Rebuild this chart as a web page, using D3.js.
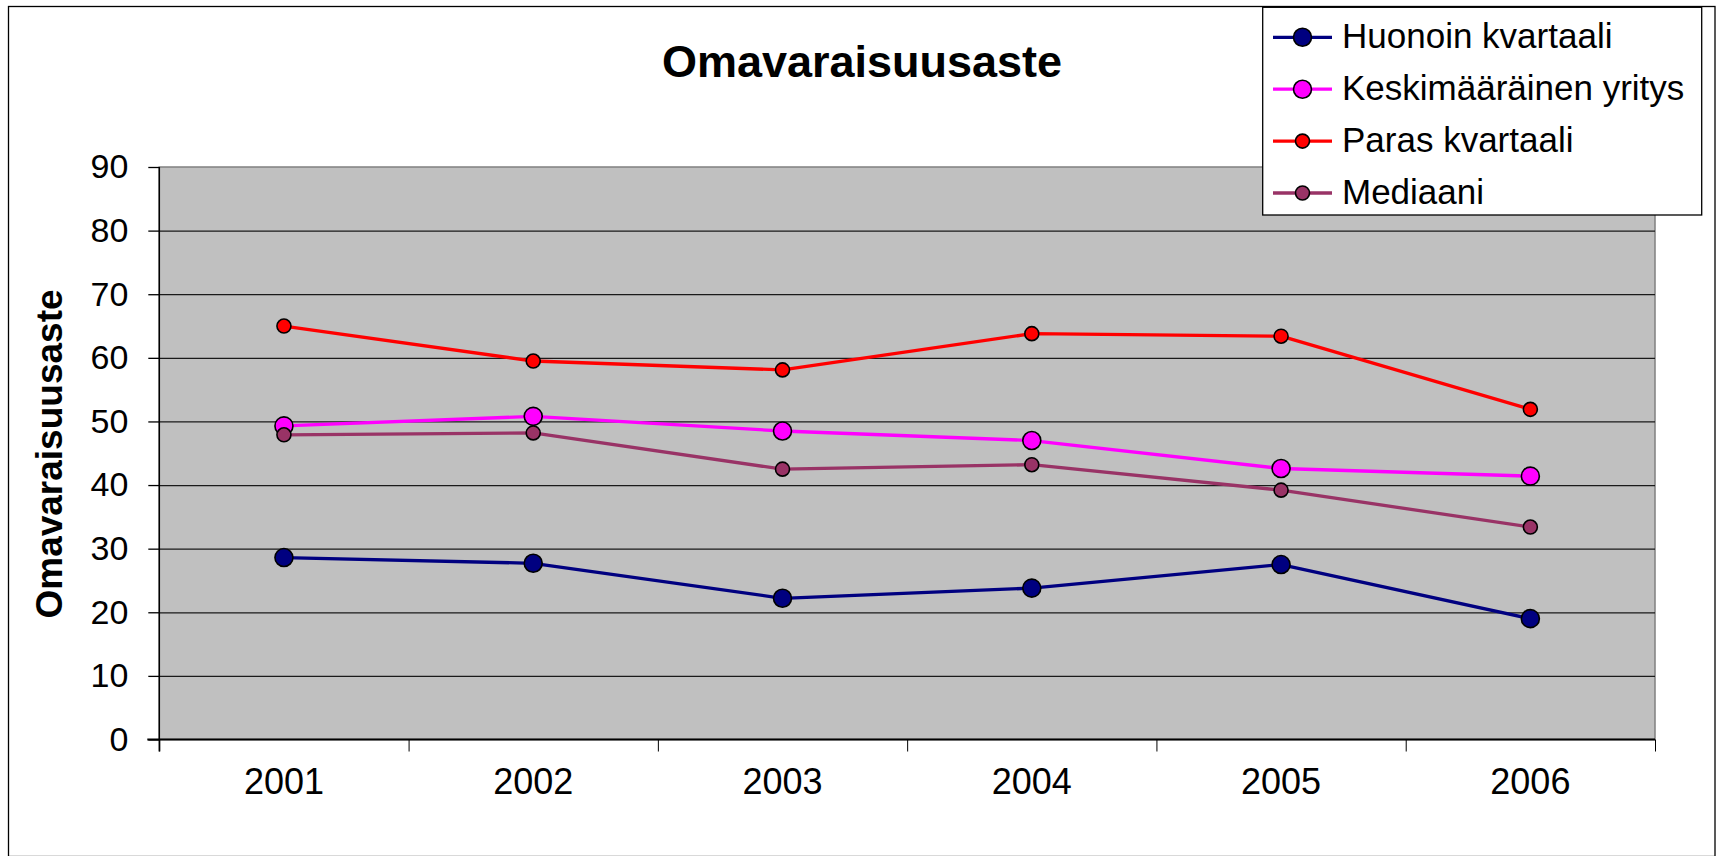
<!DOCTYPE html>
<html>
<head>
<meta charset="utf-8">
<script src="https://cdn.jsdelivr.net/npm/d3@7"></script>
<style>
  html, body { margin: 0; padding: 0; background: #fff; }
  svg { display: block; font-family: "Liberation Sans", Arial, sans-serif; }
</style>
</head>
<body>
<div id="chart"></div>
<script>
// ── Data ──
const years = ["2001", "2002", "2003", "2004", "2005", "2006"];
const huonoin = [28.6, 27.7, 22.2, 23.8, 27.5, 19.0];
const keskimaarainen = [49.3, 50.8, 48.5, 47.0, 42.6, 41.4];
const paras = [65.0, 59.5, 58.1, 63.8, 63.4, 51.9];
const mediaani = [47.9, 48.2, 42.5, 43.2, 39.2, 33.4];
const yTicks = [0, 10, 20, 30, 40, 50, 60, 70, 80, 90];

(function () {
  const W = 1719, H = 856;

  // plot area in page pixels
  const plot = { left: 159.3, right: 1655, top: 167, bottom: 739.5 };

  const series = [
    { name: "Huonoin kvartaali", values: huonoin, color: "#000080", r: 9 },
    { name: "Keskimääräinen yritys", values: keskimaarainen, color: "#FF00FF", r: 9 },
    { name: "Paras kvartaali", values: paras, color: "#FF0000", r: 7 },
    { name: "Mediaani", values: mediaani, color: "#993366", r: 7 }
  ];

  const svg = d3.select("#chart").append("svg")
    .attr("width", W).attr("height", H);

  // outer chart border
  svg.append("rect")
    .attr("x", 8.5).attr("y", 6.5)
    .attr("width", 1706.5).attr("height", 850)
    .attr("fill", "#fff").attr("stroke", "#000").attr("stroke-width", 1.3);

  // ── Scales ──
  const x = d3.scaleBand().domain(years).range([plot.left, plot.right]);
  const xEdges = d3.scaleLinear().domain([0, years.length]).range([plot.left, plot.right]);
  const y = d3.scaleLinear().domain([0, 90]).range([plot.bottom, plot.top]);

  // plot background
  svg.append("rect")
    .attr("x", plot.left).attr("y", plot.top)
    .attr("width", plot.right - plot.left).attr("height", plot.bottom - plot.top)
    .attr("fill", "#C0C0C0").attr("stroke", "#808080").attr("stroke-width", 1.5);

  // gridlines
  svg.append("g")
    .attr("transform", `translate(${plot.left},0)`)
    .call(d3.axisLeft(y).tickValues(yTicks.filter(v => v > 0 && v < 90))
      .tickSize(-(plot.right - plot.left)).tickFormat(""))
    .call(g => g.select(".domain").remove())
    .selectAll("line").attr("stroke", "#1a1a1a").attr("stroke-width", 1.2);

  // ── Y axis ──
  const yAxis = svg.append("g")
    .attr("transform", `translate(${plot.left},0)`)
    .call(d3.axisLeft(y).tickValues(yTicks).tickSize(11).tickPadding(20));
  yAxis.select(".domain").attr("stroke", "#000").attr("stroke-width", 1.5)
    .attr("d", `M0,${plot.top}V${plot.bottom + 12}`);
  yAxis.selectAll("line").attr("stroke", "#000").attr("stroke-width", 1.3);
  yAxis.selectAll("text")
    .attr("font-family", "'Liberation Sans', Arial, sans-serif")
    .attr("font-size", "34px").attr("fill", "#000");

  // ── X axis: tick marks at category edges, labels in the middle ──
  const xTicks = svg.append("g")
    .attr("transform", `translate(0,${plot.bottom})`)
    .call(d3.axisBottom(xEdges).tickValues(d3.range(years.length + 1)).tickSize(12).tickFormat(""));
  xTicks.select(".domain").attr("stroke", "#000").attr("stroke-width", 2)
    .attr("d", `M${plot.left - 12},0H${plot.right}`);
  xTicks.selectAll("line").attr("stroke", "#000").attr("stroke-width", 1);

  const xLabels = svg.append("g")
    .attr("transform", `translate(0,${plot.bottom})`)
    .call(d3.axisBottom(x).tickSize(0).tickPadding(29));
  xLabels.select(".domain").remove();
  xLabels.selectAll("text")
    .attr("font-family", "'Liberation Sans', Arial, sans-serif")
    .attr("font-size", "36px").attr("fill", "#000");

  // ── Lines & markers ──
  const cx = (d, i) => x(years[i]) + x.bandwidth() / 2;
  const line = d3.line().x(cx).y(d => y(d));

  series.forEach(s => {
    const g = svg.append("g");
    g.append("path")
      .datum(s.values)
      .attr("d", line)
      .attr("fill", "none")
      .attr("stroke", s.color)
      .attr("stroke-width", 3.3)
      .attr("stroke-linejoin", "round");
    g.selectAll("circle")
      .data(s.values)
      .join("circle")
      .attr("cx", cx)
      .attr("cy", d => y(d))
      .attr("r", s.r)
      .attr("fill", s.color)
      .attr("stroke", "#000").attr("stroke-width", 1.6);
  });

  // ── Title ──
  svg.append("text")
    .attr("x", 862).attr("y", 77)
    .attr("text-anchor", "middle")
    .attr("font-size", "45px").attr("font-weight", "bold")
    .text("Omavaraisuusaste");

  svg.append("text")
    .attr("transform", `translate(61.5,${(290 + 618) / 2}) rotate(-90)`)
    .attr("text-anchor", "middle")
    .attr("font-size", "37px").attr("font-weight", "bold")
    .text("Omavaraisuusaste");

  // ── Legend ──
  const legend = svg.append("g");
  legend.append("rect")
    .attr("x", 1262.7).attr("y", 7.3)
    .attr("width", 439).attr("height", 207.7)
    .attr("fill", "#fff").attr("stroke", "#000").attr("stroke-width", 1.3);

  series.forEach((s, i) => {
    const base = 48.3 + i * 51.9;
    const ly = base - 11;
    legend.append("line")
      .attr("x1", 1273).attr("x2", 1332)
      .attr("y1", ly).attr("y2", ly)
      .attr("stroke", s.color).attr("stroke-width", 3.3);
    legend.append("circle")
      .attr("cx", 1302.5).attr("cy", ly)
      .attr("r", s.r)
      .attr("fill", s.color)
      .attr("stroke", "#000").attr("stroke-width", 1.6);
    legend.append("text")
      .attr("x", 1342).attr("y", base)
      .attr("font-size", "35px")
      .text(s.name);
  });
})();
</script>
</body>
</html>
